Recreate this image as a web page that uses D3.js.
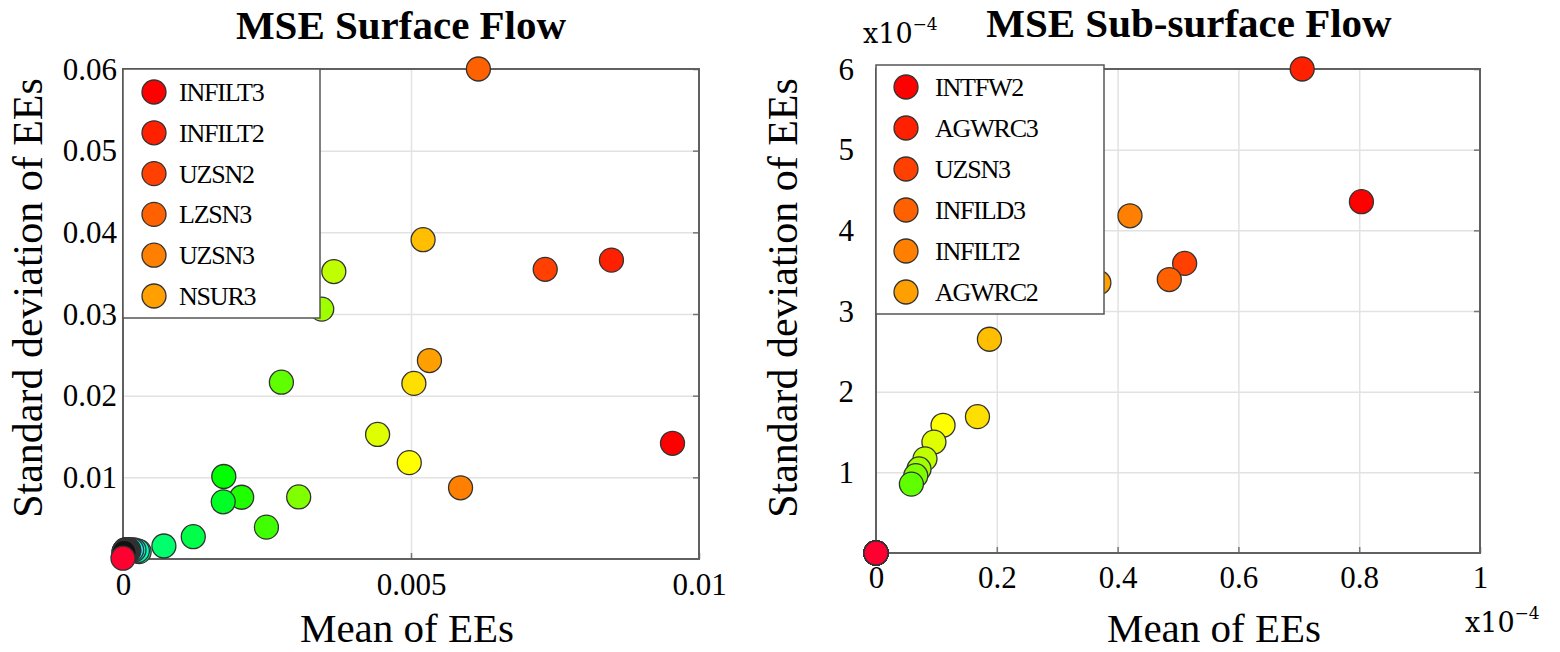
<!DOCTYPE html>
<html>
<head>
<meta charset="utf-8">
<script src="https://cdn.jsdelivr.net/npm/d3@7"></script>
<style>
  body { margin: 0; background: #fff; }
  svg text { font-family: "Liberation Serif", "Times New Roman", serif; fill: #000; }
</style>
</head>
<body>
<div id="chart"></div>
<script>
// parameters are listed in rank order (largest mean EE first), 48 per run
const surfaceNames = ["INFILT3", "INFILT2", "UZSN2", "LZSN3", "UZSN3", "NSUR3"];
const surfaceMean = [0.00954, 0.00848, 0.00733, 0.00617, 0.00586, 0.00532, 0.00521, 0.00505,
  0.00497, 0.00442, 0.00366, 0.00345, 0.00305, 0.00275, 0.00249, 0.00206, 0.00175, 0.00174,
  0.00122, 0.00071, 0.00028, 0.00025, 0.00019, 0.00015,
  0.0001, 0.0001, 0.00009, 0.00009, 0.00008, 0.00008, 0.00007, 0.00007, 0.00006, 0.00006,
  0.00006, 0.00005, 0.00005, 0.00005, 0.00004, 0.00004, 0.00004, 0.00003, 0.00003, 0.00003,
  0.00002, 0.00002, 0.00002, 0.0];
const surfaceSd = [0.01417, 0.0366, 0.03547, 0.0600, 0.00872, 0.0243, 0.0391, 0.0215,
  0.0118, 0.01525, 0.0352, 0.0306, 0.0076, 0.02165, 0.0039, 0.00756, 0.0101, 0.0070,
  0.00273, 0.00159, 0.0009, 0.001, 0.0011, 0.0011,
  0.0011, 0.001, 0.0011, 0.001, 0.0011, 0.001, 0.0011, 0.001, 0.0011, 0.001,
  0.0011, 0.001, 0.0011, 0.001, 0.0011, 0.001, 0.0011, 0.001, 0.001, 0.001,
  0.0009, 0.0009, 0.0008, 0.0001];

// sub-surface values are in units of 1e-4
const subNames = ["INTFW2", "AGWRC3", "UZSN3", "INFILD3", "INFILT2", "AGWRC2"];
const subMean = [0.8037, 0.7056, 0.511, 0.4856, 0.4205, 0.369, 0.1878, 0.168, 0.111, 0.0959,
  0.0811, 0.0712, 0.0658, 0.0586,
  0, 0, 0, 0, 0, 0, 0, 0, 0, 0, 0, 0, 0, 0, 0, 0, 0, 0, 0, 0, 0, 0, 0, 0, 0, 0, 0, 0, 0, 0, 0, 0, 0, 0];
const subSd = [4.355, 6.0, 3.59, 3.39, 4.18, 3.35, 2.65, 1.69, 1.583, 1.375,
  1.167, 1.042, 0.958, 0.854,
  0, 0, 0, 0, 0, 0, 0, 0, 0, 0, 0, 0, 0, 0, 0, 0, 0, 0, 0, 0, 0, 0, 0, 0, 0, 0, 0, 0, 0, 0, 0, 0, 0, 0];

const surfaceXTicks = [0, 0.005, 0.01];
const surfaceYTicks = [0.01, 0.02, 0.03, 0.04, 0.05, 0.06];
const subXTicks = [0, 0.2, 0.4, 0.6, 0.8, 1];
const subYTicks = [1, 2, 3, 4, 5, 6];

const W = 1560, H = 652;
const R = 12;
const SERIF = "'Liberation Serif', 'Times New Roman', serif";

// colour follows the rank of the parameter
const colour = d3.scaleLinear()
  .domain([0, 8, 16, 23, 24, 46, 47])
  .range(["#ff0000", "#ffff00", "#00ff00", "#00ffff", "#111111", "#111111", "#ff0030"])
  .interpolate(d3.interpolateRgb);

const svg = d3.select("#chart").append("svg")
  .attr("width", W).attr("height", H);
svg.append("rect").attr("width", W).attr("height", H).attr("fill", "#fff");

function drawPanel(cfg) {
  const x = d3.scaleLinear().domain(cfg.xDomain).range([cfg.left, cfg.right]);
  const y = d3.scaleLinear().domain(cfg.yDomain).range([cfg.bottom, cfg.top]);
  const g = svg.append("g");
  const h = cfg.bottom - cfg.top, w = cfg.right - cfg.left;

  // grid
  g.append("g")
    .attr("transform", "translate(0," + cfg.bottom + ")")
    .call(d3.axisBottom(x).tickValues(cfg.xTicks.slice(1, -1)).tickSize(-h).tickFormat(""))
    .call(a => a.select(".domain").remove())
    .selectAll("line").attr("stroke", "#e2e2e2").attr("stroke-width", 1.5);
  g.append("g")
    .attr("transform", "translate(" + cfg.left + ",0)")
    .call(d3.axisLeft(y).tickValues(cfg.yTicks.slice(0, -1)).tickSize(-w).tickFormat(""))
    .call(a => a.select(".domain").remove())
    .selectAll("line").attr("stroke", "#e2e2e2").attr("stroke-width", 1.5);

  // small inward ticks
  g.append("g").attr("transform", "translate(" + cfg.right + ",0)")
    .call(d3.axisRight(y).tickValues(cfg.yTicks).tickSize(-6).tickFormat(""))
    .call(a => a.select(".domain").remove())
    .selectAll("line").attr("stroke", "#777").attr("stroke-width", 1.5);
  g.append("g").attr("transform", "translate(0," + cfg.bottom + ")")
    .call(d3.axisBottom(x).tickValues(cfg.xTicks).tickSize(-6).tickFormat(""))
    .call(a => a.select(".domain").remove())
    .selectAll("line").attr("stroke", "#777").attr("stroke-width", 1.5);

  // box
  g.append("rect")
    .attr("x", cfg.left).attr("y", cfg.top)
    .attr("width", w).attr("height", h)
    .attr("fill", "none").attr("stroke", "#606060").attr("stroke-width", 2);

  // tick labels
  const xl = g.append("g")
    .attr("transform", "translate(0," + cfg.bottom + ")")
    .call(d3.axisBottom(x).tickValues(cfg.xTicks).tickSize(0).tickFormat(d3.format("~g")))
    .attr("font-family", SERIF);
  xl.select(".domain").remove();
  xl.selectAll("text").attr("dy", null).attr("y", cfg.xLabelDy)
    .attr("font-family", SERIF).style("font-size", "31px");

  const yl = g.append("g")
    .attr("transform", "translate(" + cfg.left + ",0)")
    .call(d3.axisLeft(y).tickValues(cfg.yTicks).tickSize(0).tickPadding(cfg.yPad).tickFormat(d3.format("~g")))
    .attr("font-family", SERIF);
  yl.select(".domain").remove();
  yl.selectAll("text").attr("dy", "0.33em")
    .attr("font-family", SERIF).style("font-size", "31px");

  // points, drawn in rank order so the last ranks sit on top
  const pts = cfg.mean.map((m, i) => ({ m: m, s: cfg.sd[i], rank: i }));
  g.append("g").selectAll("circle")
    .data(pts)
    .enter().append("circle")
    .attr("cx", d => x(d.m))
    .attr("cy", d => y(d.s))
    .attr("r", R)
    .attr("fill", d => colour(d.rank))
    .attr("stroke", "#333")
    .attr("stroke-width", 1.3);

  // legend
  const lg = g.append("g");
  lg.append("rect")
    .attr("x", cfg.legend.x).attr("y", cfg.legend.y)
    .attr("width", cfg.legend.w).attr("height", cfg.legend.h)
    .attr("fill", "#fff").attr("stroke", "#555").attr("stroke-width", 1.5);
  const items = lg.selectAll("g.item")
    .data(cfg.names)
    .enter().append("g")
    .attr("class", "item")
    .attr("transform", (d, i) => "translate(" + cfg.legend.mx + "," + (cfg.legend.my + i * cfg.legend.step) + ")");
  items.append("circle")
    .attr("r", R)
    .attr("fill", (d, i) => colour(i))
    .attr("stroke", "#333").attr("stroke-width", 1.3);
  items.append("text")
    .attr("x", cfg.legend.tx - cfg.legend.mx)
    .attr("y", 9)
    .style("font-size", "26px")
    .style("letter-spacing", "-1.2px")
    .text(d => d);

  // titles
  svg.append("text")
    .attr("x", cfg.titleX).attr("y", cfg.titleY)
    .attr("text-anchor", "middle")
    .style("font-size", "41px").style("font-weight", "bold")
    .text(cfg.title);
  svg.append("text")
    .attr("x", cfg.xTitleX).attr("y", 642)
    .attr("text-anchor", "middle")
    .style("font-size", "41px")
    .text("Mean of EEs");
  svg.append("text")
    .attr("transform", "translate(" + cfg.yTitleX + ",298) rotate(-90)")
    .attr("text-anchor", "middle")
    .style("font-size", "42px")
    .text("Standard deviation of EEs");
}

function exponentLabel(x, y) {
  const t = svg.append("text").attr("x", x).attr("y", y)
    .style("font-family", "'DejaVu Serif', serif").style("font-size", "27px");
  t.append("tspan").text("x10");
  t.append("tspan").attr("dy", -13).style("font-size", "17px").text("\u22124");
}

drawPanel({
  title: "MSE Surface Flow", titleX: 401, titleY: 39,
  left: 123, right: 699, top: 69, bottom: 559,
  xDomain: [0, 0.01], yDomain: [0, 0.06],
  xTicks: surfaceXTicks, yTicks: surfaceYTicks,
  xLabelDy: 36, yPad: 6,
  xTitleX: 407, yTitleX: 42,
  mean: surfaceMean, sd: surfaceSd, names: surfaceNames,
  legend: { x: 123, y: 69, w: 197, h: 249, mx: 154, my: 92, step: 40.8, tx: 179 }
});

drawPanel({
  title: "MSE Sub-surface Flow", titleX: 1189, titleY: 37,
  left: 876, right: 1480, top: 69, bottom: 553,
  xDomain: [0, 1], yDomain: [0, 6],
  xTicks: subXTicks, yTicks: subYTicks,
  xLabelDy: 35, yPad: 22,
  xTitleX: 1214, yTitleX: 797,
  mean: subMean, sd: subSd, names: subNames,
  legend: { x: 876, y: 65, w: 228, h: 249, mx: 906, my: 87, step: 41, tx: 935 }
});

exponentLabel(863, 43);
exponentLabel(1465, 632);
</script>
</body>
</html>
